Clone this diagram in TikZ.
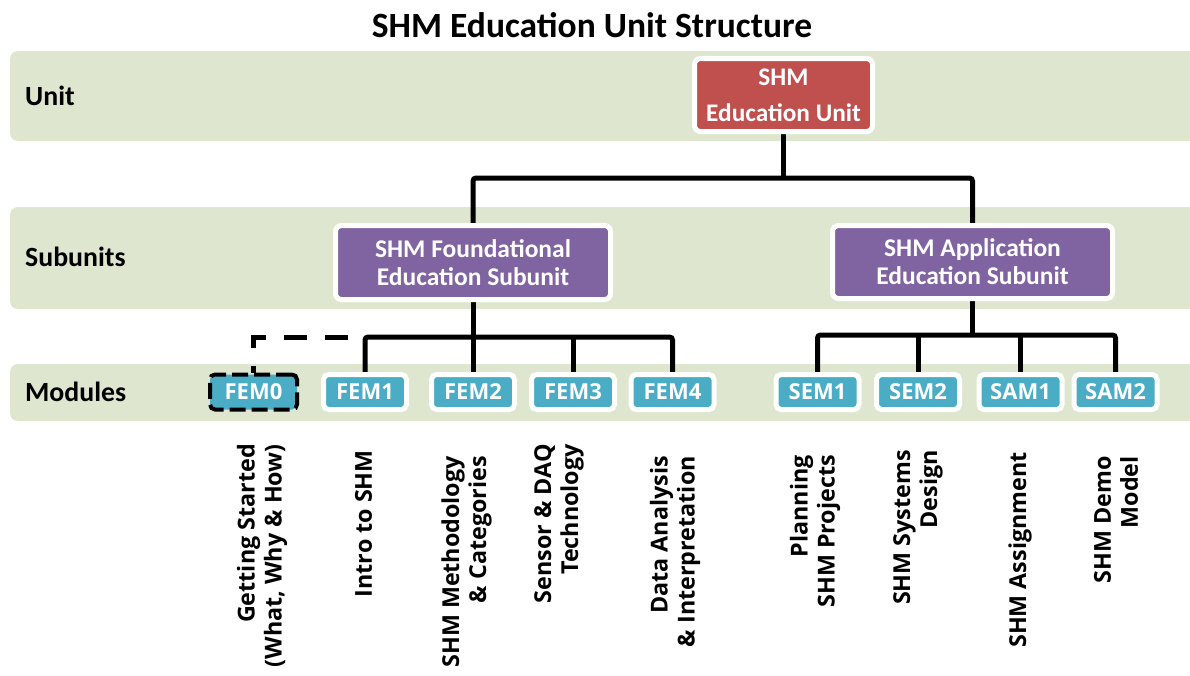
\documentclass[tikz,border=0pt]{standalone}
\usepackage{fontspec}
\newfontfamily\calfont{Carlito}
\newfontfamily\osfont{Open Sans}
\definecolor{bandgreen}{HTML}{DEE6D0}
\definecolor{unitred}{HTML}{C0504D}
\definecolor{subpurple}{HTML}{8064A2}
\definecolor{modteal}{HTML}{4BACC6}
\pgfdeclarelayer{bands}
\pgfdeclarelayer{links}
\pgfsetlayers{bands,links,main}
\begin{document}
\begin{tikzpicture}[x=1pt,y=-1pt,
  band/.style={fill=bandgreen, rounded corners=8pt},
  unitbox/.style={draw=white, line width=5pt, fill=unitred, rounded corners=6pt, text=white,
    font=\calfont\bfseries\fontsize{25.3}{36}\selectfont, align=center, inner sep=0pt},
  subbox/.style={draw=white, line width=5pt, fill=subpurple, rounded corners=6pt, text=white,
    font=\calfont\bfseries\fontsize{25.5}{28}\selectfont, align=center, inner sep=0pt},
  modbox/.style={draw=white, line width=5pt, fill=modteal, rounded corners=5pt, text=white,
    font=\osfont\bfseries\fontsize{22}{26}\selectfont, minimum width=83pt, minimum height=35pt, inner sep=0pt},
  modzero/.style={modbox, draw=black, line width=4pt, dash pattern=on 16pt off 6pt, minimum width=87pt},
  link/.style={line width=5pt, rounded corners=3pt},
  dlink/.style={line width=5pt, dash pattern=on 23pt off 18pt, dash phase=24pt},
  rowlabel/.style={font=\calfont\bfseries\fontsize{27.8}{30}\selectfont, anchor=west, inner sep=0pt},
  vlabel/.style={rotate=90, anchor=east, align=right, inner sep=0pt,
    font=\osfont\bfseries\fontsize{23.3}{27}\selectfont}
]
\useasboundingbox (0,0) rectangle (1190,675);

\begin{pgfonlayer}{bands}
  \begin{scope}
    \clip (0,0) rectangle (1190,675);
    \fill[band] (10,51) rectangle (1205,141);
    \fill[band] (10,207) rectangle (1205,309);
    \fill[band] (10,364) rectangle (1205,421);
  \end{scope}
\end{pgfonlayer}

% title and row labels
\node[font=\calfont\bfseries\fontsize{35.5}{40}\selectfont] (title) at (592,25) {SHM Education Unit Structure};
\node[rowlabel] (rowunit) at (25,96) {Unit};
\node[rowlabel] (rowsub) at (25,257) {Subunits};
\node[rowlabel] (rowmod) at (25,392) {Modules};

% boxes
\node[unitbox, minimum width=178pt, minimum height=73pt] (unit) at (783.5,95) {SHM\\Education Unit};
\node[subbox, minimum width=275pt, minimum height=74pt] (found) at (473,262.5) {SHM Foundational\\Education Subunit};
\node[subbox, minimum width=280pt, minimum height=73pt] (app) at (972.5,262) {SHM Application\\Education Subunit};

\node[modzero] (FEM0) at (253.5,392) {FEM0};
\node[modbox] (FEM1) at (365,392) {FEM1};
\node[modbox] (FEM2) at (473,392) {FEM2};
\node[modbox] (FEM3) at (573,392) {FEM3};
\node[modbox] (FEM4) at (672.5,392) {FEM4};
\node[modbox] (SEM1) at (817.5,392) {SEM1};
\node[modbox] (SEM2) at (918,392) {SEM2};
\node[modbox] (SAM1) at (1020.5,392) {SAM1};
\node[modbox] (SAM2) at (1115.5,392) {SAM2};

% connectors
\coordinate (ub) at (783.5,178);
\coordinate (fb) at (473,337);
\coordinate (ab) at (972.5,335);
\begin{pgfonlayer}{links}
  \draw[link] (unit.south) -- (ub);
  \draw[link] (found.north) |- (ub) -| (app.north);
  \draw[link] (found.south) -- (fb);
  \draw[link] (FEM1.north) |- (fb) -| (FEM4.north);
  \draw[link] (FEM2.north) -- (FEM2.north |- fb);
  \draw[link] (FEM3.north) -- (FEM3.north |- fb);
  \draw[dlink] (FEM1.north |- fb) -| (FEM0.north);
  \draw[link] (app.south) -- (ab);
  \draw[link] (SEM1.north) |- (ab) -| (SAM2.north);
  \draw[link] (SEM2.north) -- (SEM2.north |- ab);
  \draw[link] (SAM1.north) -- (SAM1.north |- ab);
\end{pgfonlayer}

% rotated module titles
\node[vlabel] (l0) at (262,444) {Getting Started\\(What, Why \& How)};
\node[vlabel] (l1) at (363.5,450) {Intro to SHM};
\node[vlabel] (l2) at (466.5,456) {SHM Methodology\\\& Categories};
\node[vlabel] (l3) at (559,444) {Sensor \& DAQ\\Technology};
\node[vlabel] (l4) at (675,456) {Data Analysis\\\& Interpretation};
\node[vlabel] (l5) at (815,455) {Planning\\SHM Projects};
\node[vlabel] (l6) at (918,450) {SHM Systems\\Design};
\node[vlabel] (l7) at (1020,452) {SHM Assignment};
\node[vlabel] (l8) at (1116,456) {SHM Demo\\Model};
\end{tikzpicture}
\end{document}
